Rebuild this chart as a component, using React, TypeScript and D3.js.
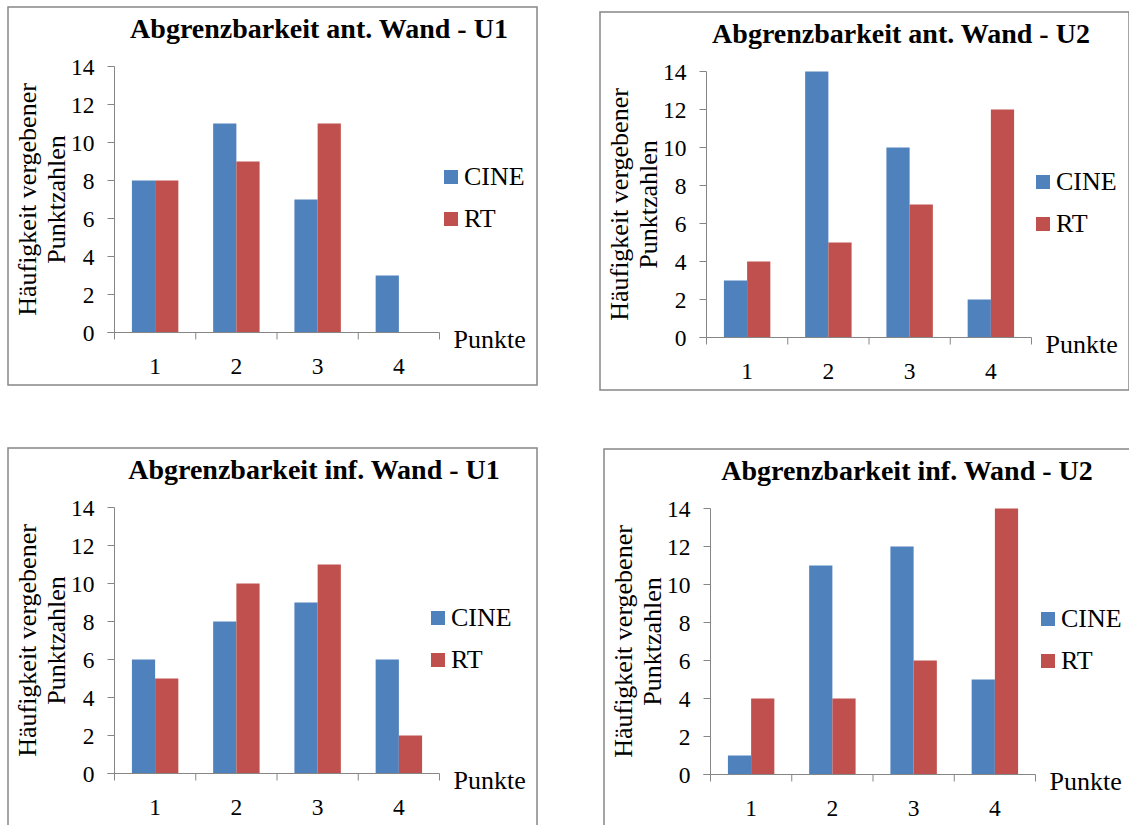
import React from "react";
import * as d3 from "d3";

// Scores 1–4 on the x axis, counts on the y axis
const categories = ["1", "2", "3", "4"];
const seriesNames = ["CINE", "RT"];
const yTicks = [0, 2, 4, 6, 8, 10, 12, 14];

const titleAntU1 = "Abgrenzbarkeit ant. Wand - U1";
const titleAntU2 = "Abgrenzbarkeit ant. Wand - U2";
const titleInfU1 = "Abgrenzbarkeit inf. Wand - U1";
const titleInfU2 = "Abgrenzbarkeit inf. Wand - U2";

const cineAntU1 = [8, 11, 7, 3];
const rtAntU1 = [8, 9, 11, 0];
const cineAntU2 = [3, 14, 10, 2];
const rtAntU2 = [4, 5, 7, 12];
const cineInfU1 = [6, 8, 9, 6];
const rtInfU1 = [5, 10, 11, 2];
const cineInfU2 = [1, 11, 12, 5];
const rtInfU2 = [4, 4, 6, 14];

const yAxisLine1 = "Häufigkeit vergebener";
const yAxisLine2 = "Punktzahlen";
const xAxisTitle = "Punkte";

const COLORS = ["#4F81BD", "#C0504D"];
const AXIS = "#868686";
const FONT = "Liberation Serif, DejaVu Serif, serif";
const txt = { fontFamily: FONT };

const W = 1129;
const H = 825;
const PANEL_W = 529;
const PANEL_H = 378;

// Plot area inside each panel
const PLOT_L = 106.5;
const PLOT_R = 431.5;
const PLOT_T = 59.5;
const PLOT_B = 325.5;

type PanelProps = {
  x: number;
  y: number;
  title: string;
  titleX: number;
  legendX: number;
  cine: number[];
  rt: number[];
};

function Panel({ x, y, title, titleX, legendX, cine, rt }: PanelProps) {
  const xScale = d3
    .scaleBand<string>()
    .domain(categories)
    .range([PLOT_L, PLOT_R])
    .paddingInner(1.5 / 3.5)
    .paddingOuter(0.75 / 3.5);
  const inner = d3
    .scaleBand<string>()
    .domain(seriesNames)
    .range([0, xScale.bandwidth()]);
  const yScale = d3.scaleLinear().domain([0, 14]).range([PLOT_B, PLOT_T]);
  const step = xScale.step();
  const boundaries = d3.range(categories.length + 1).map((i) => PLOT_L + i * step);
  const values = [cine, rt];

  return (
    <g transform={`translate(${x},${y})`}>
      <rect
        x={0}
        y={0}
        width={PANEL_W}
        height={PANEL_H}
        fill="#fff"
        stroke={AXIS}
        strokeWidth={1.5}
      />
      <text
        x={titleX}
        y={31}
        textAnchor="middle"
        style={txt}
        fontWeight="bold"
        fontSize={28}
        fill="#000"
      >
        {title}
      </text>

      {/* bars */}
      {seriesNames.map((s, si) =>
        categories.map((c, ci) => {
          const v = values[si][ci];
          const y0 = yScale(v);
          return (
            <rect
              key={`${s}-${c}`}
              x={(xScale(c) as number) + (inner(s) as number)}
              y={y0}
              width={inner.bandwidth()}
              height={PLOT_B - y0}
              fill={COLORS[si]}
            />
          );
        })
      )}

      {/* y axis */}
      <line x1={PLOT_L} x2={PLOT_L} y1={PLOT_T} y2={PLOT_B} stroke={AXIS} strokeWidth={1} />
      {yTicks.map((t) => (
        <g key={`yt${t}`}>
          <line
            x1={PLOT_L - 7}
            x2={PLOT_L}
            y1={yScale(t)}
            y2={yScale(t)}
            stroke={AXIS}
            strokeWidth={1}
          />
          <text
            x={PLOT_L - 20}
            y={yScale(t)}
            dy="0.35em"
            textAnchor="end"
            style={txt}
            fontSize={23.5}
            fill="#000"
          >
            {t}
          </text>
        </g>
      ))}

      {/* x axis */}
      <line x1={PLOT_L - 7} x2={PLOT_R} y1={PLOT_B} y2={PLOT_B} stroke={AXIS} strokeWidth={1} />
      {boundaries.map((bx, i) => (
        <line
          key={`xb${i}`}
          x1={bx}
          x2={bx}
          y1={PLOT_B}
          y2={PLOT_B + 7}
          stroke={AXIS}
          strokeWidth={1}
        />
      ))}
      {categories.map((c) => (
        <text
          key={`xl${c}`}
          x={(xScale(c) as number) + xScale.bandwidth() / 2}
          y={PLOT_B + 41}
          textAnchor="middle"
          style={txt}
          fontSize={23.5}
          fill="#000"
        >
          {c}
        </text>
      ))}
      <text x={PLOT_R + 14} y={PLOT_B + 15} style={txt} fontSize={26} fill="#000">
        {xAxisTitle}
      </text>

      {/* y axis title */}
      <g transform={`translate(28,${(PLOT_T + PLOT_B) / 2}) rotate(-90)`}>
        <text x={0} y={0} textAnchor="middle" style={txt} fontSize={26} fill="#000">
          {yAxisLine1}
        </text>
        <text x={0} y={29} textAnchor="middle" style={txt} fontSize={26} fill="#000">
          {yAxisLine2}
        </text>
      </g>

      {/* legend */}
      {seriesNames.map((s, si) => (
        <g key={`lg${s}`} transform={`translate(${legendX},${163 + si * 42})`}>
          <rect x={0} y={0} width={14} height={14} fill={COLORS[si]} />
          <text x={20} y={15} style={txt} fontSize={26} fill="#000">
            {s}
          </text>
        </g>
      ))}
    </g>
  );
}

export default function App() {
  return (
    <div style={{ position: "absolute", left: 0, top: 0 }}>
      <svg width={W} height={H} viewBox={`0 0 ${W} ${H}`} style={{ display: "block" }}>
        <rect x={0} y={0} width={W} height={H} fill="#fff" />
        <Panel x={8} y={7} title={titleAntU1} titleX={311} legendX={436} cine={cineAntU1} rt={rtAntU1} />
        <Panel x={600} y={12} title={titleAntU2} titleX={301} legendX={436} cine={cineAntU2} rt={rtAntU2} />
        <Panel x={8} y={448} title={titleInfU1} titleX={306} legendX={423} cine={cineInfU1} rt={rtInfU1} />
        <Panel x={604} y={449} title={titleInfU2} titleX={303} legendX={437} cine={cineInfU2} rt={rtInfU2} />
      </svg>
    </div>
  );
}
